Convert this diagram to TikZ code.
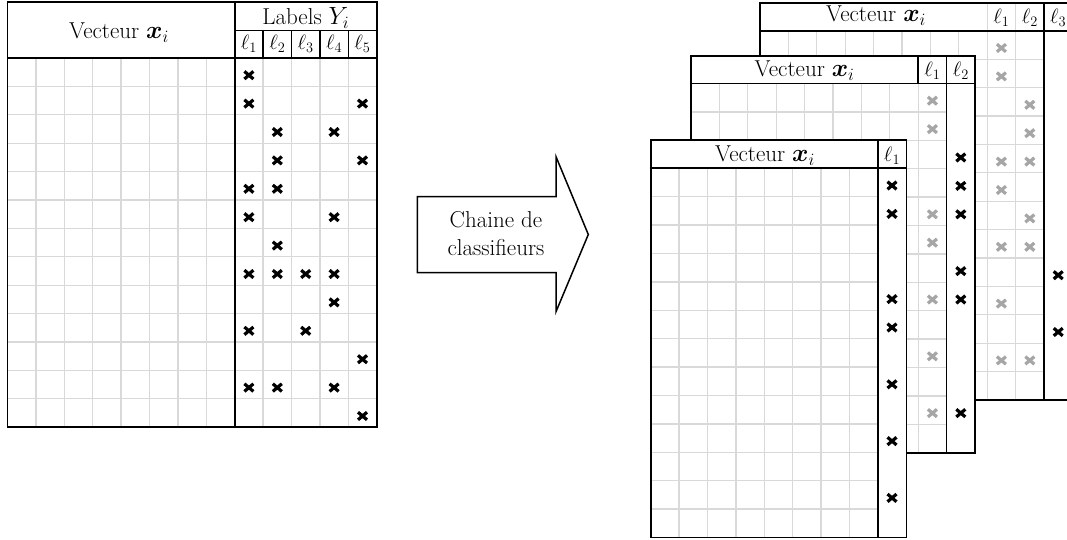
\documentclass[tikz,border=0pt]{standalone}
\usepackage{bm}

\tikzset{
  grille/.style={draw=black!15, line width=1.3pt},
  bord/.style={draw=black, line width=1.6pt},
  croix/.style={draw=black, line width=3.2pt},
  croixgris/.style={draw=black!35, line width=3.2pt},
  titre/.style={font=\fontsize{23}{28}\selectfont, inner sep=0pt},
  petit/.style={font=\fontsize{22}{26}\selectfont, inner sep=0pt},
}

\begin{document}
\begin{tikzpicture}[x=1pt, y=-1pt]

\useasboundingbox (0,0) rectangle (1067,540);
\clip (0,0) rectangle (1067,540);

% tableau de depart
\fill [white] (7.5,2) rectangle (376.7,427.2);
\foreach \j in {1,...,12}
  \draw [grille] (7.5+28.4*\j,58) -- (7.5+28.4*\j,427.2);
\foreach \i in {1,...,12}
  \draw [grille] (7.5,58+28.4*\i) -- (376.7,58+28.4*\i);
\begin{scope}[bord]
\draw (7.5,2) rectangle (376.7,427.2);
\draw (7.5,58) -- (376.7,58);
\draw (234.7,2) -- (234.7,427.2);
\draw (234.7,30.5) -- (376.7,30.5);
\foreach \k in {1,...,4}
  \draw (234.7+28.4*\k,30.5) -- (234.7+28.4*\k,58);
\end{scope}

\node [titre] (vec0) at (119,32.5) {Vecteur $\bm{x}_i$};
\node [titre] (lab0) at (305.7,18) {Labels $Y_i$};
\foreach \k in {1,...,5}
  \node [petit] (l0\k) at (220.5+28.4*\k,44) {$\ell_{\k}$};

\foreach \k/\rows in {1/{1,2,5,6,8,10,12}, 2/{3,4,5,7,8,12}, 3/{8,10}, 4/{3,6,8,9,12}, 5/{2,4,11,13}}
  \foreach \i in \rows
    \draw [croix, shift={(220.5+28.4*\k,46.8+28.4*\i)}] (-4.5,-3.8) -- (4.5,3.8) (-4.5,3.8) -- (4.5,-3.8);

% fleche
\draw [line width=1.5pt] (417.3,196.7) -- (556,196.7) -- (556,156.7) -- (588.3,234.5)
  -- (556,311.7) -- (556,272.7) -- (417.3,272.7) -- cycle;
\node [titre, align=center] (chaine) at (496,234) {Chaine de\\classifieurs};

% troisieme classifieur (fond)
\fill [white] (760,3.3) rectangle (1072.4,400);
\foreach \j in {1,...,7}
  \draw [grille] (760+28.4*\j,30.8) -- (760+28.4*\j,400);
\foreach \j in {8,9}
  \draw [grille] (760+28.4*\j,3.3) -- (760+28.4*\j,400);
\foreach \i in {1,...,12}
  \draw [grille] (760,30.8+28.4*\i) -- (1044,30.8+28.4*\i);
\begin{scope}[bord]
\draw (760,3.3) rectangle (1072.4,400);
\draw (760,30.8) -- (1072.4,30.8);
\draw (1044,3.3) -- (1044,400);
\end{scope}

\node [titre] (vec3) at (876,15.5) {Vecteur $\bm{x}_i$};
\foreach \k in {1,2,3}
  \node [petit] (l3\k) at (973,17.5) [xshift=28.4*\k] {$\ell_{\k}$};

\foreach \k/\rows in {1/{1,2,5,6,8,10,12}, 2/{3,4,5,7,8,12}}
  \foreach \i in \rows
    \draw [croixgris, shift={(973+28.4*\k,19.6+28.4*\i)}] (-4.5,-3.8) -- (4.5,3.8) (-4.5,3.8) -- (4.5,-3.8);
\foreach \i in {9,11}
  \draw [croix, shift={(1058.2,19.6+28.4*\i)}] (-4.5,-3.8) -- (4.5,3.8) (-4.5,3.8) -- (4.5,-3.8);

% deuxieme classifieur
\fill [white] (691,56) rectangle (975,452.7);
\foreach \j in {1,...,8}
  \draw [grille] (691+28.4*\j,83.5) -- (691+28.4*\j,452.7);
\foreach \i in {1,...,12}
  \draw [grille] (691,83.5+28.4*\i) -- (946.6,83.5+28.4*\i);
\begin{scope}[bord]
\draw (691,56) rectangle (975,452.7);
\draw (691,83.5) -- (975,83.5);
\draw (918.2,56) -- (918.2,83.5);
\draw (946.6,56) -- (946.6,452.7);
\end{scope}

\node [titre] (vec2) at (804.6,71) {Vecteur $\bm{x}_i$};
\node [petit] (l21) at (932.4,71) {$\ell_1$};
\node [petit] (l22) at (960.8,71) {$\ell_2$};

\foreach \i in {1,2,5,6,8,10,12}
  \draw [croixgris, shift={(932.4,72.3+28.4*\i)}] (-4.5,-3.8) -- (4.5,3.8) (-4.5,3.8) -- (4.5,-3.8);
\foreach \i in {3,4,5,7,8,12}
  \draw [croix, shift={(960.8,72.3+28.4*\i)}] (-4.5,-3.8) -- (4.5,3.8) (-4.5,3.8) -- (4.5,-3.8);

% premier classifieur (devant)
\fill [white] (650.7,140) rectangle (906.3,537.5);
\foreach \j in {1,...,7}
  \draw [grille] (650.7+28.4*\j,168.3) -- (650.7+28.4*\j,537.5);
\foreach \i in {1,...,12}
  \draw [grille] (650.7,168.3+28.4*\i) -- (877.9,168.3+28.4*\i);
\begin{scope}[bord]
\draw (650.7,140) rectangle (906.3,537.5);
\draw (650.7,168.3) -- (906.3,168.3);
\draw (877.9,140) -- (877.9,537.5);
\end{scope}

\node [titre] (vec1) at (765,155.5) {Vecteur $\bm{x}_i$};
\node [petit] (l11) at (892,155.5) {$\ell_1$};

\foreach \i in {1,2,5,6,8,10,12}
  \draw [croix, shift={(892,157.1+28.4*\i)}] (-4.5,-3.8) -- (4.5,3.8) (-4.5,3.8) -- (4.5,-3.8);

\end{tikzpicture}
\end{document}
